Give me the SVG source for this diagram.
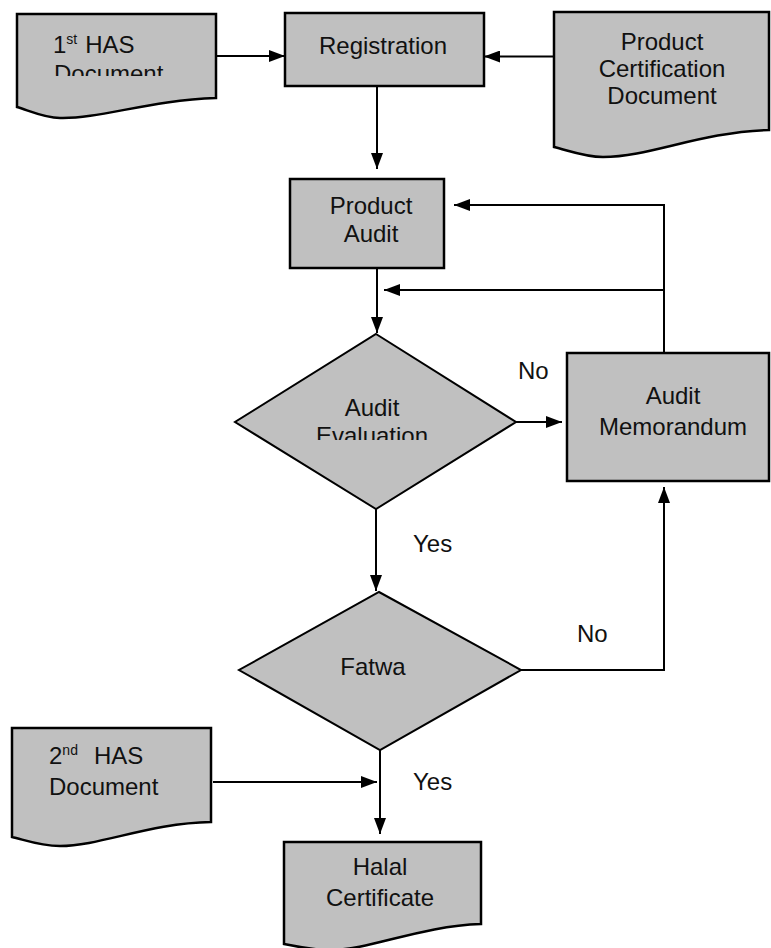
<svg xmlns="http://www.w3.org/2000/svg" width="771" height="948" viewBox="0 0 771 948">
<style>
.shape{fill:#c0c0c0;stroke:#000;stroke-width:2.5;stroke-linejoin:miter}
.line{fill:none;stroke:#000;stroke-width:2}
.t{font-family:"Liberation Sans",Arial,sans-serif;font-size:24px;fill:#111}
.c{text-anchor:middle}
.sup{font-size:14px}
</style>
<defs>
<marker id="ah" viewBox="0 0 16 12" refX="16" refY="6" markerWidth="16" markerHeight="12" markerUnits="userSpaceOnUse" orient="auto">
<path d="M0,0 L16,6 L0,12 Z" fill="#000"/>
</marker>
<clipPath id="clipHas1"><rect x="17" y="14" width="199" height="62"/></clipPath>
<clipPath id="clipEval"><rect x="230" y="330" width="290" height="110"/></clipPath>
</defs>

<g id="connectors">
<path class="line" d="M216,56 H285" marker-end="url(#ah)"/>
<path class="line" d="M554,56.5 H484" marker-end="url(#ah)"/>
<path class="line" d="M377,86 V169" marker-end="url(#ah)"/>
<path class="line" d="M377,268 V333" marker-end="url(#ah)"/>
<path class="line" d="M516,422 H562" marker-end="url(#ah)"/>
<path class="line" d="M664,353 V205 H454" marker-end="url(#ah)"/>
<path class="line" d="M664,290 H384" marker-end="url(#ah)"/>
<path class="line" d="M376,509 V591" marker-end="url(#ah)"/>
<path class="line" d="M521,670 H664 V487" marker-end="url(#ah)"/>
<path class="line" d="M380,750 V834" marker-end="url(#ah)"/>
<path class="line" d="M213,782 H377" marker-end="url(#ah)"/>
</g>

<g id="has1">
<path class="shape" d="M17,14 H216 V98 C150,100 100,119 60,118 C45,118 30,111 17,107 Z"/>
<g clip-path="url(#clipHas1)">
<text class="t" x="53" y="53">1<tspan class="sup" dy="-9">st</tspan><tspan dy="9" dx="8">HAS</tspan></text>
<text class="t" x="54" y="82">Document</text>
</g>
</g>

<g id="registration">
<rect class="shape" x="285" y="13" width="199" height="73"/>
<text class="t c" x="383" y="54">Registration</text>
</g>

<g id="productCert">
<path class="shape" d="M554,12 H769 V130 C700,132 650,157 603,157 C585,157 570,151 554,147 Z"/>
<text class="t c" x="662" y="50">Product</text>
<text class="t c" x="662" y="77">Certification</text>
<text class="t c" x="662" y="104">Document</text>
</g>

<g id="productAudit">
<rect class="shape" x="290" y="179" width="154" height="89"/>
<text class="t c" x="371" y="214">Product</text>
<text class="t c" x="371" y="242">Audit</text>
</g>

<g id="auditEvaluation">
<polygon class="shape" points="376,334 516,422 376,509 235,422" style="stroke-width:2"/>
<g clip-path="url(#clipEval)">
<text class="t c" x="372" y="416">Audit</text>
<text class="t c" x="372" y="444">Evaluation</text>
</g>
</g>

<g id="auditMemo">
<rect class="shape" x="567" y="353" width="202" height="128"/>
<text class="t c" x="673" y="404">Audit</text>
<text class="t c" x="673" y="435">Memorandum</text>
</g>

<g id="fatwa">
<polygon class="shape" points="379,592 521,670 380,750 239,670" style="stroke-width:2"/>
<text class="t c" x="373" y="675">Fatwa</text>
</g>

<g id="has2">
<path class="shape" d="M12,728 H211 V822 C150,823 100,846 60,846 C40,846 25,840 12,837 Z"/>
<text class="t" x="49" y="764">2<tspan class="sup" dy="-9">nd</tspan><tspan dy="9" dx="16">HAS</tspan></text>
<text class="t" x="49" y="795">Document</text>
</g>

<g id="halal">
<path class="shape" d="M284,842 H481 V924 C420,926 370,950 330,950 C310,950 295,946 284,944 Z"/>
<text class="t c" x="380" y="875">Halal</text>
<text class="t c" x="380" y="906">Certificate</text>
</g>

<g id="labels">
<text class="t" x="518" y="379">No</text>
<text class="t" x="413" y="552">Yes</text>
<text class="t" x="577" y="642">No</text>
<text class="t" x="413" y="790">Yes</text>
</g>
</svg>
